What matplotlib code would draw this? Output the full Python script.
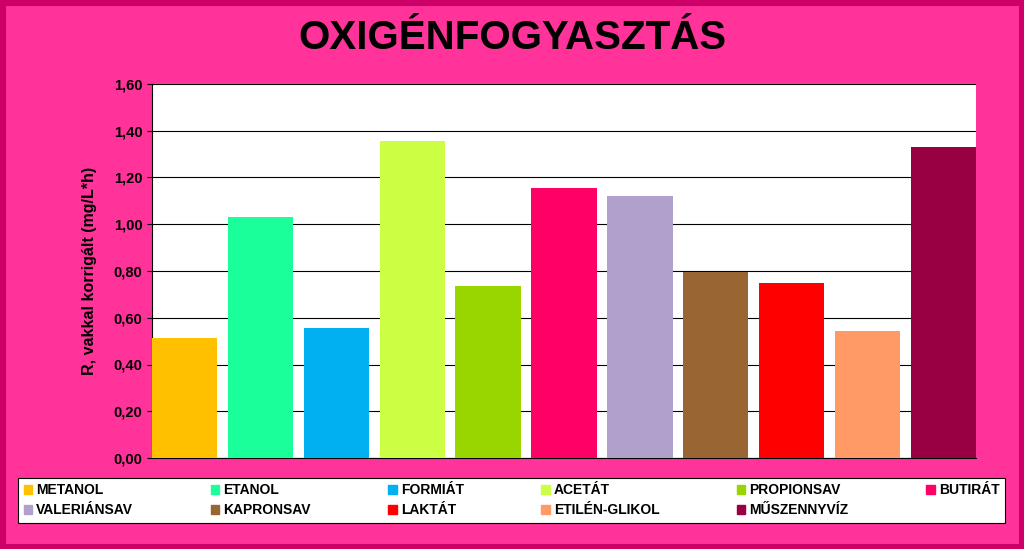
import matplotlib.pyplot as plt
import numpy as np
from matplotlib.patches import Rectangle, Patch

plt.rcParams['font.family'] = ['Liberation Sans', 'DejaVu Sans']

categories = ['METANOL', 'ETANOL', 'FORMIÁT', 'ACETÁT', 'PROPIONSAV', 'BUTIRÁT',
              'VALERIÁNSAV', 'KAPRONSAV', 'LAKTÁT', 'ETILÉN-GLIKOL', 'MŰSZENNYVÍZ']
values = [0.515, 1.03, 0.555, 1.355, 0.735, 1.155, 1.12, 0.795, 0.75, 0.545, 1.33]
colors = ['#FFC000', '#1AFF9A', '#00B0F0', '#CCFF44', '#99D600', '#FF0066',
          '#B0A0CC', '#996633', '#FF0000', '#FF9966', '#990044']
ticks = np.arange(0, 1.61, 0.2)

fig = plt.figure(figsize=(10.24, 5.49), dpi=100, facecolor='#FF3399')
fig.patches.append(Rectangle((0, 0), 1, 1, transform=fig.transFigure, fill=False,
                             edgecolor='#CC0066', linewidth=8))
ax = fig.add_axes([152/1024, 1-458/549, (976-152)/1024, (458-84)/549])
x = np.arange(len(values))
ax.bar(x, values, width=0.86, color=colors, zorder=3)
ax.set_xlim(-0.43, len(values) - 0.57)
ax.set_ylim(0, 1.6)
ax.set_yticks(ticks)
ax.set_yticklabels([f'{t:.2f}'.replace('.', ',') for t in ticks],
                   fontsize=10.5, fontweight='bold')
ax.set_xticks([])
ax.yaxis.grid(True, color='black', linewidth=0.8, zorder=0)
for s in ['top', 'right']:
    ax.spines[s].set_visible(False)
ax.set_ylabel('R, vakkal korrigált (mg/L*h)', fontsize=11.5, fontweight='bold', labelpad=12)
fig.text(0.5, 0.93, 'OXIGÉNFOGYASZTÁS', ha='center', va='center',
         fontsize=29, fontweight='bold')

# legend filled row by row (matplotlib fills column by column)
order = [0, 6, 1, 7, 2, 8, 3, 9, 4, 10, 5]
handles = [Patch(color=colors[i], label=categories[i]) for i in order]
leg = fig.legend(handles=handles, ncol=6, loc='lower left', mode='expand',
                 bbox_to_anchor=(18/1024, 1-523/549, (1005-18)/1024, 46/549),
                 frameon=True, fancybox=False, edgecolor='black', framealpha=1,
                 handlelength=0.6, handleheight=0.6, handletextpad=0.3,
                 prop={'weight': 'bold', 'size': 10}, borderpad=0.4, labelspacing=0.45,
                 borderaxespad=0)
leg.get_frame().set_linewidth(0.8)
fig.savefig('out.png', dpi=100, facecolor=fig.get_facecolor())
